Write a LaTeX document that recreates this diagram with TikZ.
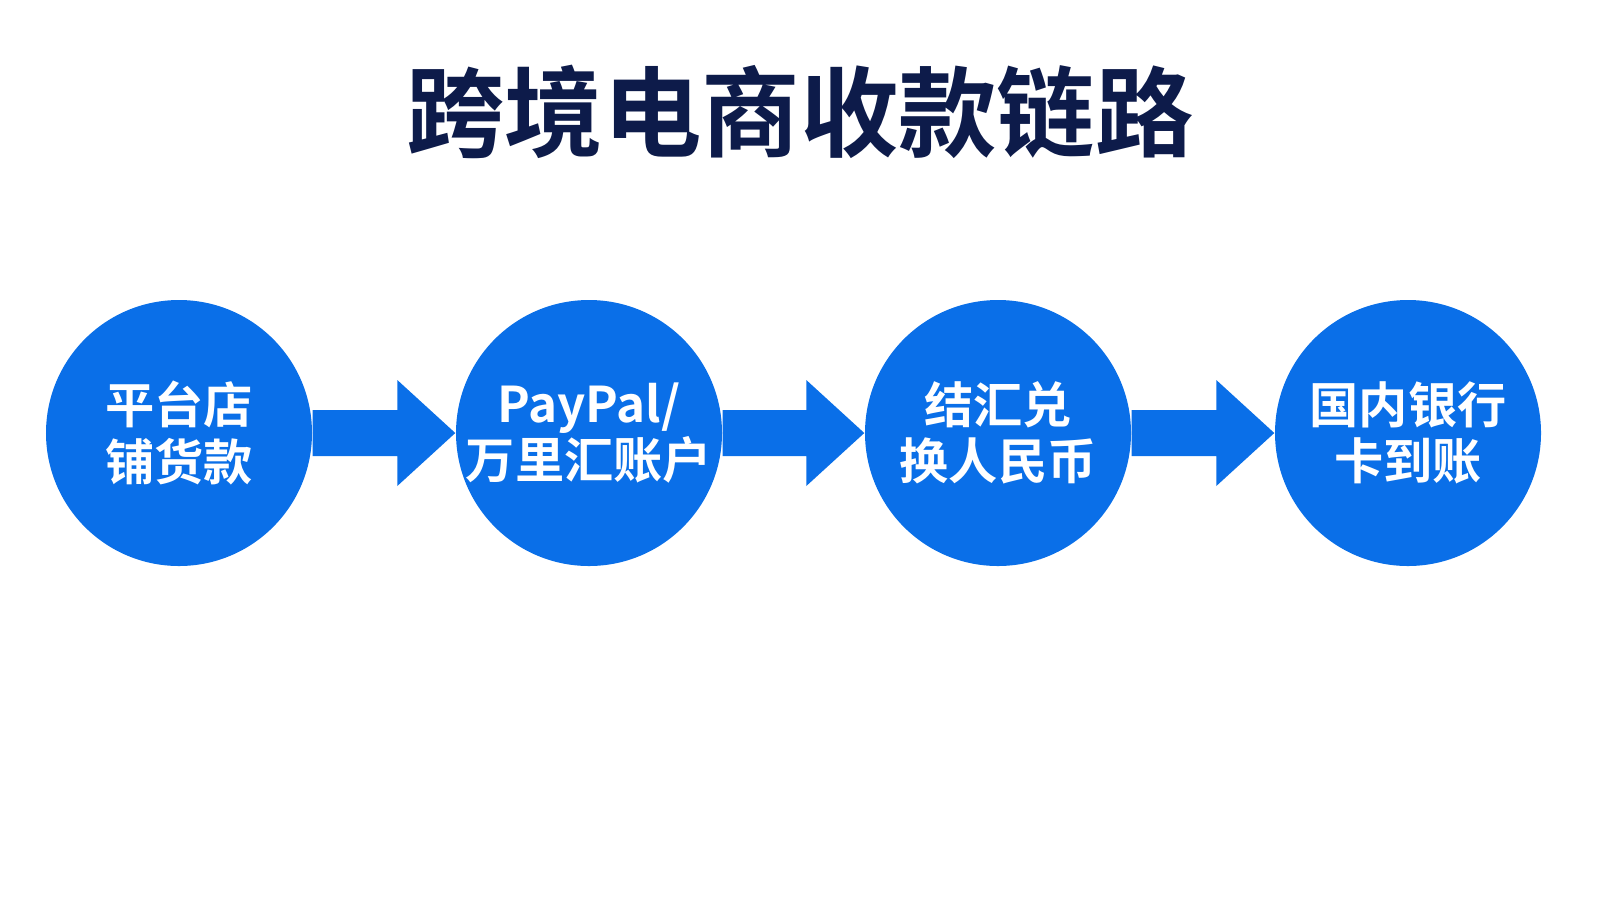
\documentclass[tikz,border=0pt]{standalone}
\usepackage{fontspec}
\setmainfont{Noto Sans CJK SC}[BoldFont={* Bold}]
\usetikzlibrary{positioning,calc}
\definecolor{stepblue}{HTML}{0A6FE8}
\definecolor{titlenavy}{HTML}{0D1B4A}
\tikzset{
  stage/.style={circle, fill=stepblue, minimum size=2.66cm, inner sep=-0.5cm,
    text=white, align=center, font=\bfseries\fontsize{14}{16}\selectfont},
}
\newcommand{\flowarrow}[2]{%
  \fill[stepblue] ($(#1.east)+(0,0.23)$) -- ($(#2.west)+(-0.58,0.23)$)
    -- ($(#2.west)+(-0.58,0.53)$) -- (#2.west) -- ($(#2.west)+(-0.58,-0.53)$)
    -- ($(#2.west)+(-0.58,-0.23)$) -- ($(#1.east)+(0,-0.23)$) -- cycle;}
\begin{document}
\begin{tikzpicture}
    \useasboundingbox (0,0) rectangle (16,-9);
    \node[font=\bfseries\fontsize{28}{33}\selectfont, text=titlenavy] (title) at (8,-1.12) {跨境电商收款链路};
    \node[stage] (shop) at (1.79,-4.33) {平台店\\铺货款};
    \node[stage] (acct) at (5.89,-4.33) {PayPal/\\万里汇账户};
    \node[stage] (fx) at (9.98,-4.33) {结汇兑\\换人民币};
    \node[stage] (bank) at (14.08,-4.33) {国内银行\\卡到账};
    \flowarrow{shop}{acct}
    \flowarrow{acct}{fx}
    \flowarrow{fx}{bank}
\end{tikzpicture}
\end{document}
